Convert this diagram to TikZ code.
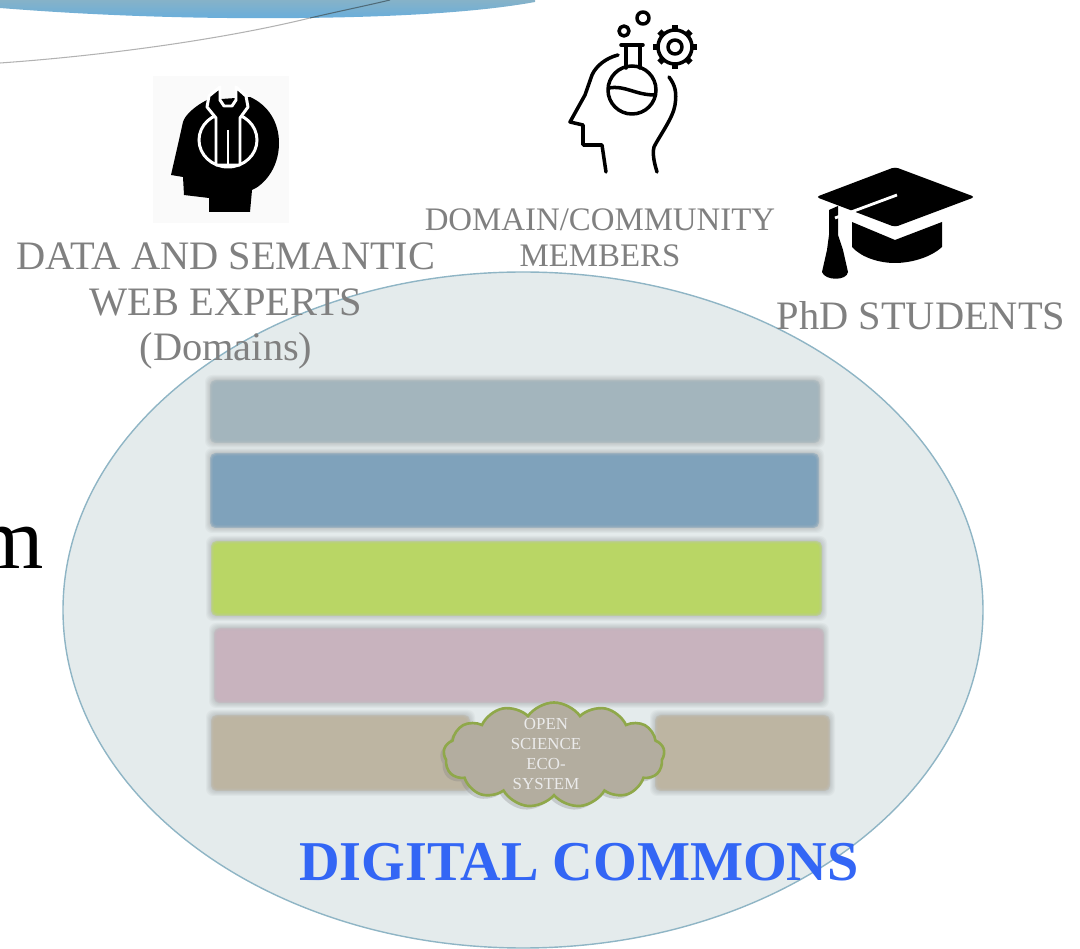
\documentclass[tikz,border=0pt]{standalone}
\usepackage{fontspec}
\setmainfont{Liberation Serif}
\usetikzlibrary{shapes.symbols,shadows}

\definecolor{bandtop}{HTML}{86B2C8}
\definecolor{bandbottom}{HTML}{68AEDC}
\definecolor{commons}{HTML}{E4EBEC}
\definecolor{commonsline}{HTML}{8FB5C5}
\definecolor{barone}{HTML}{A3B5BD}
\definecolor{bartwo}{HTML}{7FA2BB}
\definecolor{barthree}{HTML}{B9D665}
\definecolor{barfour}{HTML}{C8B3BE}
\definecolor{barfive}{HTML}{BDB5A2}
\definecolor{cloudfill}{HTML}{B3AD9F}
\definecolor{cloudline}{HTML}{8FA84A}
\definecolor{titleblue}{HTML}{3366F5}

\tikzset{
  rolelabel/.style={text=black!50, align=center, inner sep=0pt},
  iconline/.style={draw=black, line width=2pt, line cap=round, line join=round},
  cloudbox/.style={cloud, cloud puffs=13, cloud puff arc=110, aspect=2.1, draw=cloudline,
    line width=1.5pt, fill=cloudfill, minimum width=4.42cm, minimum height=2.1cm, inner sep=0pt,
    drop shadow={opacity=.3, shadow xshift=-2pt, shadow yshift=-2pt}}
}

\newcommand{\softbar}[5]{
  \foreach \g in {5,4,3,2,1,0}
    \fill [black!60, opacity=.05, rounded corners=4pt] (#1-\g,#2-\g) rectangle (#3+\g,#4+\g);
  \foreach \g in {0,1,2}
    \fill [#5, opacity=.5, rounded corners=3pt] (#1+\g,#2+\g) rectangle (#3-\g,#4-\g);
  \fill [#5, rounded corners=2pt] (#1+3,#2+3) rectangle (#3-3,#4-3);
}

\begin{document}
\begin{tikzpicture}[x=0.02cm,y=-0.02cm]
	  \useasboundingbox (0,0) rectangle (1080,949);

	  % top band and swoosh
	  \shade [top color=bandtop, bottom color=bandbottom] (0,0)--(0,8) .. controls (100,16) and (200,19) .. (300,18) .. controls (400,17) and (480,12) .. (535,2)--(535,0)--cycle;
	  \draw [black!30, line width=.6pt] (0,63) .. controls (100,56) and (220,40) .. (310,18);
	  \draw [bandtop!60!black, line width=.6pt] (310,18) .. controls (340,11) and (365,6) .. (390,0);

	  % big circle
	  \draw [fill=commons, draw=commonsline, line width=.8pt] (523,610) ellipse [x radius=460, y radius=338];

	  % stacked layers
	  \softbar{210}{380}{820}{443}{barone}
	  \softbar{210}{453}{819}{528}{bartwo}
	  \softbar{211}{541}{822}{616}{barthree}
	  \softbar{214}{628}{824}{703}{barfour}
	  \softbar{211}{715}{470}{791}{barfive}
	  \softbar{655}{715}{830}{791}{barfive}

	  \node (ecocloud) [cloudbox] at (554,755) {};
	  \node (ecotext) [text=white!92!black, align=center, inner sep=0pt, font=\fontsize{9.6}{11.2}\selectfont] at (546,754) {OPEN\\SCIENCE\\ECO-\\SYSTEM};

	  % cut off letter on the left
	  \node (letterm) [anchor=base east, inner sep=0pt, font=\fontsize{50}{50}\selectfont] at (44,569) {m};

	  % labels
	  \node (experts) [rolelabel, font=\fontsize{23}{25.7}\selectfont] at (226,306) {DATA AND SEMANTIC\\WEB EXPERTS\\(Domains)};
	  \node (members) [rolelabel, font=\fontsize{18.7}{20.4}\selectfont] at (600,238) {DOMAIN/COMMUNITY\\MEMBERS};
	  \node (students) [rolelabel, font=\fontsize{23}{25.5}\selectfont] at (921,316) {PhD STUDENTS};
	  \node (commonstitle) [text=titleblue, inner sep=0pt, font=\fontsize{32}{36}\selectfont\bfseries] at (579,862) {DIGITAL COMMONS};

	  % head with wrench
	  \fill [black!2] (153,76) rectangle (289,223);
	  \fill [black] (209,212)--(250,212)--(252,190) .. controls (262,186) and (279,170) .. (279,143) .. controls (279,122) and (268,105) .. (250,97)--(207,100) .. controls (195,106) and (185,115) .. (183,122)--(179,140)--(171,175)--(183,177)--(184,195)--(209,198)--cycle;
	  \draw [white, line width=1.7pt] (228,140) ellipse [x radius=29, y radius=27];
	  \draw [white, fill=black, line width=1.7pt, line join=round] (220,87)--(209,96)--(207,107)--(216,118)--(216,165)--(240,165)--(240,118)--(248,107)--(246,96)--(236,87)--(236,100)--(232,106)--(224,106)--(220,100)--cycle;
	  \draw [white, line width=1.7pt] (228,130)--(228,165);

	  % head with flask and gear
	  \draw [iconline] (606,172)--(602,145)--(583,145)--(583,125)--(570,122)--(585,95)--(592,75) .. controls (596,66) and (606,58) .. (618,55);
	  \draw [iconline] (669,77) .. controls (675,85) and (677,92) .. (675,105) .. controls (673,118) and (660,135) .. (654,147) .. controls (652,155) and (655,165) .. (657,172);
	  \draw [iconline] (621,45)--(643,45);
	  \draw [iconline] (626,45)--(626,68);
	  \draw [iconline] (640,45)--(640,68);
	  \draw [iconline] (632,90) circle [radius=24];
	  \draw [iconline] (609,88) .. controls (625,85) and (635,95) .. (655,95);
	  \draw [iconline] (624,31) circle [radius=5];
	  \draw [iconline] (643,18) circle [radius=6];
	  \draw [iconline] (675,47) circle [radius=17];
	  \draw [iconline] (675,47) circle [radius=7];
	  \foreach \a in {0,45,...,315}
	    \draw [black, line width=3.4pt] (675,47) ++(\a:16) -- ++(\a:6);

	  % graduation cap
	  \fill [black] (852,222)--(895,240)--(942,222)--(942,247) .. controls (930,258) and (910,263) .. (895,263) .. controls (880,263) and (862,258) .. (852,247)--cycle;
	  \fill [black, rounded corners=2pt] (895,167)--(975,197)--(895,227)--(816,197)--cycle;
	  \fill [black] (829,210)--(838,206)--(838,235)--(843,250)--(848,272) .. controls (847,281) and (825,281) .. (822,272)--(827,250)--(829,235)--cycle;
	  \draw [white, line width=1.6pt] (897,195)--(835,218);
	  \draw [white, line width=1.6pt] (850,216)--(895,233)--(945,215);
	\end{tikzpicture}
\end{document}
